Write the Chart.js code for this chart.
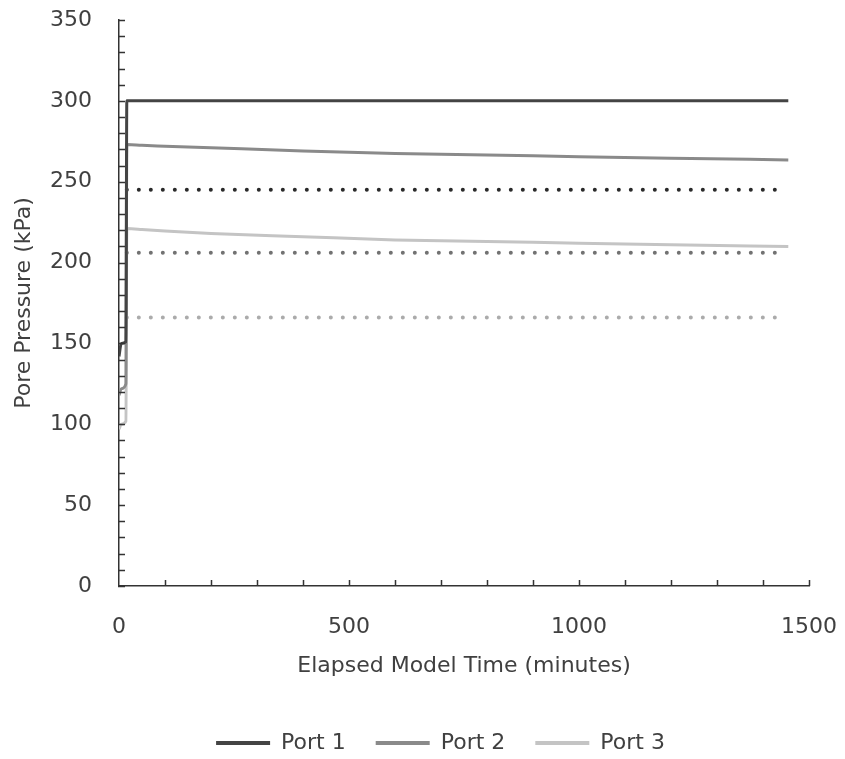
<!DOCTYPE html>
<html>
<head>
<meta charset="utf-8">
<title>Pore Pressure</title>
<script src="https://cdn.jsdelivr.net/npm/chart.js@4"></script>
<style>
  html, body { margin: 0; padding: 0; background: #fff; }
  #wrap { width: 845px; height: 759px; }
</style>
</head>
<body>
<div id="wrap"><canvas id="poreChart" width="845" height="759"></canvas></div>
<script>
// readings taken off the plot (minutes, kPa)
const timeMin = [0, 5, 15, 17, 50, 100, 200, 400, 600, 800, 1000, 1200, 1455];
const port1 = [142, 150, 151, 300, 300, 300, 300, 300, 300, 300, 300, 300, 300];
const port2 = [118, 122, 125, 273, 272.5, 272, 271, 269, 267.5, 266.5, 265.5, 264.5, 263.5];
const port3 = [97, 100, 102, 221, 220.5, 219.5, 218, 216, 214, 213, 212, 211, 210];

// dotted reference levels, one per port
const levelTimes = [17, 1432];
const levelValues = [245, 206, 166];

const portLabels = ['Port 1', 'Port 2', 'Port 3'];
const portColors = ['#444444', '#8a8a8a', '#c4c4c4'];
const levelColors = ['#2a2a2a', '#727272', '#ababab'];

const yTicks = [0, 50, 100, 150, 200, 250, 300, 350];
const xTicks = [0, 500, 1000, 1500];

const FONT = 'DejaVu Sans';
const TEXT = '#404040';

const toPoints = (xs, ys) => xs.map((x, i) => ({ x: x, y: ys[i] }));

const portSets = [port1, port2, port3].map((vals, i) => ({
  label: portLabels[i],
  data: toPoints(timeMin, vals),
  borderColor: portColors[i],
  backgroundColor: portColors[i],
  borderWidth: 3,
  pointRadius: 0,
  cubicInterpolationMode: 'monotone',
}));

const levelSets = levelValues.map((v, i) => ({
  label: 'level ' + (i + 1),
  data: toPoints(levelTimes, levelTimes.map(() => v)),
  borderColor: levelColors[i],
  borderWidth: 4,
  borderDash: [0, 12],
  borderCapStyle: 'round',
  pointRadius: 0,
}));

// Excel style small inside ticks: 10 kPa on y, 100 minutes on x
const minorTicks = {
  id: 'minorTicks',
  afterDraw(chart) {
    const { ctx, scales: { x, y } } = chart;
    ctx.save();
    ctx.strokeStyle = '#333';
    ctx.lineWidth = 1.5;
    ctx.beginPath();
    for (let v = 0; v <= 350; v += 10) {
      const py = Math.round(y.getPixelForValue(v)) + 0.5;
      ctx.moveTo(x.left - 1, py);
      ctx.lineTo(x.left + 6, py);
    }
    for (let t = 100; t <= 1500; t += 100) {
      const px = Math.round(x.getPixelForValue(t)) + 0.5;
      ctx.moveTo(px, y.bottom);
      ctx.lineTo(px, y.bottom - 6);
    }
    ctx.stroke();
    ctx.restore();
  }
};

// legend in the original sits a bit right of the canvas centre
const legendShift = {
  id: 'legendShift',
  afterLayout(chart) {
    chart.legend.left += 36;
    chart.legend.right += 36;
  }
};

new Chart(document.getElementById('poreChart').getContext('2d'), {
  type: 'line',
  data: { datasets: portSets.concat(levelSets) },
  options: {
    responsive: false,
    animation: false,
    layout: { padding: { top: 20, right: 36, bottom: -5, left: 0 } },
    plugins: {
      tooltip: { enabled: false },
      legend: {
        position: 'bottom',
        labels: {
          color: TEXT,
          font: { family: FONT, size: 22 },
          boxWidth: 54,
          boxHeight: 4,
          padding: 30,
          generateLabels: (chart) => chart.data.datasets.slice(0, 3).map((ds, i) => ({
            text: ds.label,
            fillStyle: ds.borderColor,
            strokeStyle: ds.borderColor,
            lineWidth: 0,
            fontColor: TEXT,
            datasetIndex: i,
            hidden: false,
          })),
        },
      },
    },
    scales: {
      x: {
        type: 'linear',
        min: 0,
        max: 1500,
        afterBuildTicks: (s) => { s.ticks = xTicks.map(v => ({ value: v })); },
        afterFit: (s) => { s.height = 116; s.paddingLeft = 0; s.paddingRight = 0; },
        grid: { display: false, drawTicks: false },
        border: { color: '#333', width: 1.5 },
        ticks: {
          color: TEXT,
          font: { family: FONT, size: 22 },
          padding: 28,
          maxRotation: 0,
          callback: (v) => String(v),
        },
        title: {
          display: true,
          text: 'Elapsed Model Time (minutes)',
          color: TEXT,
          font: { family: FONT, size: 22 },
          padding: { top: 4, bottom: 23 },
        },
      },
      y: {
        min: 0,
        max: 350,
        afterBuildTicks: (s) => { s.ticks = yTicks.map(v => ({ value: v })); },
        afterFit: (s) => { s.width = 119; s.paddingTop = 0; s.paddingBottom = 0; },
        grid: { display: false, drawTicks: false },
        border: { color: '#333', width: 1.5 },
        ticks: { color: TEXT, font: { family: FONT, size: 22 }, padding: 27 },
        title: {
          display: true,
          text: 'Pore Pressure (kPa)',
          color: TEXT,
          font: { family: FONT, size: 22 },
          padding: { top: 11, bottom: 0 },
        },
      },
    },
  },
  plugins: [minorTicks, legendShift],
});
</script>
</body>
</html>
